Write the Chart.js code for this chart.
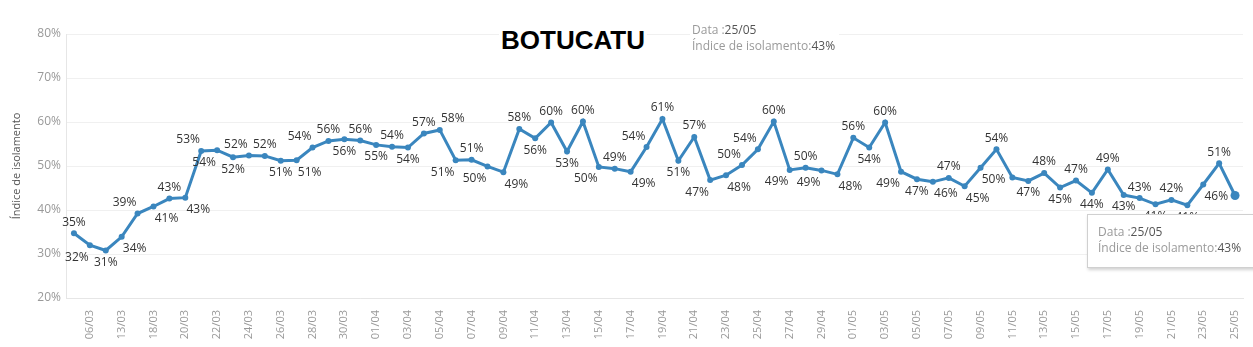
<!DOCTYPE html>
<html>
<head>
<meta charset="utf-8">
<script src="https://cdn.jsdelivr.net/npm/chart.js@4"></script>
<style>
  body { margin: 0; background: #fff; }
  #wrap { position: relative; width: 1253px; height: 347px; overflow: hidden; }
  .title {
    position: absolute; left: 499px; top: 25px; background: #fff; padding: 0 2px;
    font: bold 26px "Liberation Sans", Arial, sans-serif; color: #000; line-height: 30px;
  }
  .tip { position: absolute; font: 12px "Open Sans", sans-serif; color: #9a9a9a; line-height: 16px; background: #fff; }
  .tip b { font-weight: normal; color: #555; }
  .box {
    border: 1px solid #d0d0d0; box-shadow: 1px 2px 3px rgba(0,0,0,0.18);
    padding: 9px 10px 10px 10px;
  }
</style>
</head>
<body>
<div id="wrap">
  <canvas id="chart" width="1253" height="347"></canvas>
  <div class="title">BOTUCATU</div>
  <div class="tip" style="left:690px; top:22px; padding:0 4px 0 2px;">Data :<b>25/05</b><br>Índice de isolamento:<b>43%</b></div>
  <div class="tip box" style="left:1087px; top:214px; width:160px; height:33px;">Data :<b>25/05</b><br>Índice de isolamento:<b>43%</b></div>
</div>
<script>
// dates (only every other one is shown on the axis)
const dates = [
  '05/03', '06/03', '09/03', '13/03', '16/03', '18/03', '19/03', '20/03', '21/03', '22/03',
  '23/03', '24/03', '25/03', '26/03', '27/03', '28/03', '29/03', '30/03', '31/03', '01/04',
  '02/04', '03/04', '04/04', '05/04', '06/04', '07/04', '08/04', '09/04', '10/04', '11/04',
  '12/04', '13/04', '14/04', '15/04', '16/04', '17/04', '18/04', '19/04', '20/04', '21/04',
  '22/04', '23/04', '24/04', '25/04', '26/04', '27/04', '28/04', '29/04', '30/04', '01/05',
  '02/05', '03/05', '04/05', '05/05', '06/05', '07/05', '08/05', '09/05', '10/05', '11/05',
  '12/05', '13/05', '14/05', '15/05', '16/05', '17/05', '18/05', '19/05', '20/05', '21/05',
  '22/05', '23/05', '24/05', '25/05'
];

// isolation index (%)
const isolamento = [
  34.7, 32.0, 30.8, 33.9, 39.2, 40.8, 42.6, 42.8, 53.4, 53.6,
  52.0, 52.4, 52.3, 51.2, 51.3, 54.2, 55.7, 56.1, 55.8, 54.8,
  54.4, 54.2, 57.4, 58.2, 51.3, 51.4, 49.9, 48.6, 58.4, 56.3,
  59.9, 53.3, 60.1, 49.8, 49.4, 48.7, 54.3, 60.7, 51.2, 56.6,
  46.8, 47.9, 50.2, 53.8, 60.1, 49.1, 49.6, 49.0, 48.1, 56.4,
  54.2, 59.9, 48.7, 47.0, 46.4, 47.3, 45.4, 49.6, 53.8, 47.4,
  46.6, 48.4, 45.1, 46.7, 43.9, 49.2, 43.4, 42.7, 41.3, 42.3,
  41.1, 45.8, 50.6, 43.3
];

const yTicks = [20, 30, 40, 50, 60, 70, 80];

// where each value label sits: a = above, b = below, l/r = nudged left/right, '' = no label
const labelSpot = [
  'a', 'bl', 'b', 'br', 'al', 'br', 'a', 'br', 'al', 'bl',
  'b', 'al', 'a', 'b', 'br', 'al', 'a', 'b', 'a', 'b',
  'a', 'b', 'a', 'ar', 'bl', 'a', 'bl', 'br', 'a', 'b',
  'a', 'b', 'a', 'bl', 'a', 'br', 'al', 'a', 'b', 'a',
  'bl', 'br', 'al', 'al', 'a', 'bl', 'a', 'bl', 'br', 'a',
  'b', 'a', 'bl', 'b', 'br', 'a', 'br', 'br', 'a', '',
  'b', 'a', 'b', 'a', 'b', 'a', 'b', 'a', 'b', 'a',
  'b', 'br', 'a', ''
];

const blue = '#3a86be';

const valueLabels = {
  id: 'valueLabels',
  afterDatasetsDraw(chart) {
    const ctx = chart.ctx;
    const pts = chart.getDatasetMeta(0).data;
    ctx.save();
    ctx.font = '12px "Open Sans", sans-serif';
    ctx.fillStyle = '#333';
    ctx.textAlign = 'center';
    ctx.textBaseline = 'middle';
    pts.forEach((p, i) => {
      const spot = labelSpot[i];
      if (!spot) return;
      let dx = 0, dy = spot[0] === 'a' ? -11 : 12;
      if (spot[1] === 'l') dx = -13;
      if (spot[1] === 'r') dx = 13;
      ctx.fillText(Math.round(isolamento[i]) + '%', p.x + dx, p.y + dy);
    });
    ctx.restore();
  }
};

new Chart(document.getElementById('chart'), {
  type: 'line',
  data: {
    labels: dates,
    datasets: [{
      data: isolamento,
      borderColor: blue,
      backgroundColor: blue,
      borderWidth: 3,
      pointRadius: ctx => ctx.dataIndex === isolamento.length - 1 ? 4.5 : 3,
      pointBackgroundColor: blue,
      pointBorderWidth: 0,
      tension: 0
    }]
  },
  options: {
    responsive: false,
    animation: false,
    devicePixelRatio: 1,
    layout: { padding: { left: 0, right: 10, top: 34, bottom: 0 } },
    plugins: { legend: { display: false }, tooltip: { enabled: false } },
    scales: {
      x: {
        offset: true,
        grid: { display: false },
        border: { color: '#e6e6e6' },
        ticks: {
          autoSkip: false,
          minRotation: 90,
          maxRotation: 90,
          padding: 4,
          color: '#999',
          font: { family: '"Open Sans", sans-serif', size: 11 },
          callback: (v, i) => i % 2 === 1 ? dates[i] : ''
        },
        afterFit: s => { s.height = 49; }
      },
      y: {
        min: 20,
        max: 80,
        afterBuildTicks: s => { s.ticks = yTicks.map(v => ({ value: v })); },
        grid: { color: '#f0f0f0', drawTicks: false },
        border: { color: '#e6e6e6' },
        ticks: {
          padding: 5,
          color: '#999',
          font: { family: '"Open Sans", sans-serif', size: 12 },
          callback: v => v + '%'
        },
        title: {
          display: true,
          text: 'Índice de isolamento',
          color: '#555',
          font: { family: '"Open Sans", sans-serif', size: 11 },
          padding: { top: 10, bottom: 0 }
        },
        afterFit: s => { s.width = 66; }
      }
    }
  },
  plugins: [valueLabels]
});
</script>
</body>
</html>
